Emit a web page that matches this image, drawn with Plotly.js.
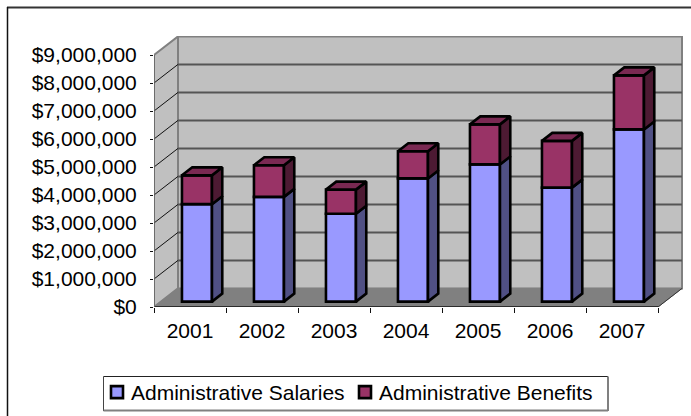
<!DOCTYPE html>
<html>
<head>
<meta charset="utf-8">
<script src="https://cdn.plot.ly/plotly-3.0.1.min.js"></script>
<style>html,body{margin:0;padding:0;background:#fff;overflow:hidden}</style>
</head>
<body>
<div id="chart" style="width:691px;height:416px"></div>
<script>
// Administrative cost per year, stacked, in dollars
const years = ['2001', '2002', '2003', '2004', '2005', '2006', '2007'];
const salaries = [3480000, 3740000, 3140000, 4400000, 4900000, 4070000, 6150000];
const benefits = [1030000, 1130000, 860000, 970000, 1430000, 1670000, 1930000];
const yTicks = [0, 1000000, 2000000, 3000000, 4000000, 5000000, 6000000, 7000000, 8000000, 9000000];
const yTickLabels = ['$0', '$1,000,000', '$2,000,000', '$3,000,000', '$4,000,000', '$5,000,000', '$6,000,000', '$7,000,000', '$8,000,000', '$9,000,000'];

// Oblique projection: depth 0 is the axis plane, depth 1 the back wall
const DEPTH_X = 24 / 72;
const DEPTH_Y = 18.6 / 28 * 1e6;
const project = (x, v, d) => [x + d * DEPTH_X, v + d * DEPTH_Y];
const pathOf = pts => 'M' + pts.map(p => p[0] + ',' + p[1]).join('L') + 'Z';

const BAR_W = 30 / 72, FRONT = 0.29, BACK = 0.72, TOP_AXIS = 9000000, N = years.length;
const EDGE = 2.6;

// Polygons of a bar's right-hand face and top face, joined with gaps for one fill trace
function polyTrace(polys, fill) {
  const x = [], y = [];
  polys.forEach(poly => {
    poly.concat([poly[0]]).forEach(p => { x.push(p[0]); y.push(p[1]); });
    x.push(null); y.push(null);
  });
  return {type: 'scatter', mode: 'lines', x, y, fill: 'toself', fillcolor: fill,
          line: {color: '#000', width: EDGE}, hoverinfo: 'skip', showlegend: false};
}
function sideFace(i, lo, hi) {
  const r = i + 0.5 + BAR_W / 2;
  return [project(r, lo, FRONT), project(r, lo, BACK), project(r, hi, BACK), project(r, hi, FRONT)];
}
function topFace(i, v) {
  const l = i + 0.5 - BAR_W / 2, r = i + 0.5 + BAR_W / 2;
  return [project(l, v, FRONT), project(l, v, BACK), project(r, v, BACK), project(r, v, FRONT)];
}

const totals = salaries.map((s, i) => s + benefits[i]);
const frontX = years.map((_, i) => i + 0.5 + FRONT * DEPTH_X);
const lift = FRONT * DEPTH_Y;

const traces = [
  {type: 'bar', name: 'Administrative Salaries', x: frontX, y: salaries, base: salaries.map(() => lift),
   width: BAR_W, marker: {color: '#9999FF', line: {color: '#000', width: EDGE}}, hoverinfo: 'y'},
  {type: 'bar', name: 'Administrative Benefits', x: frontX, y: benefits, base: salaries.map(s => s + lift),
   width: BAR_W, marker: {color: '#993366', line: {color: '#000', width: EDGE}}, hoverinfo: 'y'},
  polyTrace(salaries.map((s, i) => sideFace(i, 0, s)), '#505084'),
  polyTrace(salaries.map((s, i) => sideFace(i, s, totals[i])), '#4D1A33'),
  polyTrace(totals.map((t, i) => topFace(i, t)), '#7A2952')
];

// Walls, floor and gridlines of the box behind the columns
const shapes = [];
const poly = (pts, fill, lineColor, w) => shapes.push({type: 'path', xref: 'x', yref: 'y', layer: 'below',
  path: pathOf(pts), fillcolor: fill, line: {color: lineColor, width: w}});
const seg = (a, b, color, w) => shapes.push({type: 'line', xref: 'x', yref: 'y', layer: 'below',
  x0: a[0], y0: a[1], x1: b[0], y1: b[1], line: {color, width: w}});
// Page-pixel helpers for the frame and the legend box
const px = v => (v - 154) / 530, py = v => (307 - v) / 271;
const frameLine = (x0, y0, x1, y1, color, w) => shapes.push({type: 'line', xref: 'paper', yref: 'paper', layer: 'below',
  x0: px(x0), y0: py(y0), x1: px(x1), y1: py(y1), line: {color, width: w}});

poly([project(0, 0, 1), project(N, 0, 1), project(N, TOP_AXIS, 1), project(0, TOP_AXIS, 1)], '#C0C0C0', '#808080', 2);
poly([project(0, 0, 0), project(0, 0, 1), project(0, TOP_AXIS, 1), project(0, TOP_AXIS, 0)], '#C0C0C0', '#808080', 2);
poly([project(0, 0, 0), project(N, 0, 0), project(N, 0, 1), project(0, 0, 1)], '#808080', '#808080', 1);
yTicks.slice(1, -1).forEach(v => {
  seg(project(0, v, 1), project(N, v, 1), '#555', 2);
  seg(project(0, v, 0), project(0, v, 1), '#111', 1);
});
seg(project(0, 0, 0), project(N, 0, 0), '#111', 1.5);
seg(project(0, 0, 0), project(0, TOP_AXIS, 0), '#666', 1.5);
seg(project(N, 0, 0), project(N, 0, 1), '#333', 1);

// Chart frame: only its top and left edges fall inside the page
frameLine(7, 7.5, 691, 7.5, '#333', 2);
frameLine(7.5, 7, 7.5, 416, '#111', 1.5);

// Legend box: dark top and left edges, grey right and bottom edges
shapes.push({type: 'rect', xref: 'paper', yref: 'paper', layer: 'below', x0: px(104), y0: py(376.5), x1: px(608), y1: py(410.5), fillcolor: '#fff', line: {width: 0}});
frameLine(103.5, 376.5, 608, 376.5, '#222', 1);
frameLine(103.5, 376.5, 103.5, 411, '#444', 1);
frameLine(608, 376.5, 608, 411, '#808080', 2);
frameLine(103.5, 410.5, 608, 410.5, '#808080', 2);

const layout = {
  width: 691, height: 416,
  margin: {l: 154, r: 7, t: 36, b: 109, pad: 0},
  paper_bgcolor: '#fff', plot_bgcolor: 'rgba(0,0,0,0)',
  font: {family: '"Liberation Sans", Arial, sans-serif', size: 21, color: '#000'},
  barmode: 'overlay',
  showlegend: true,
  legend: {orientation: 'h', xref: 'container', yref: 'container', xanchor: 'left', yanchor: 'top',
           x: 91 / 691, y: 1 - 372 / 416, bgcolor: 'rgba(0,0,0,0)', borderwidth: 0,
           font: {size: 21}, traceorder: 'normal', entrywidthmode: 'pixels', entrywidth: 203},
  xaxis: {range: [0, 530 / 72], tickmode: 'array', tickvals: years.map((_, i) => i + 0.5), ticktext: years,
          showgrid: false, zeroline: false, showline: false, ticks: '', ticklabelstandoff: 9,
          minor: {tickmode: 'array', tickvals: years.map((_, i) => i).concat([N]), ticks: 'outside', ticklen: 5, tickcolor: '#111', tickwidth: 1, showgrid: false}},
  yaxis: {range: [0, 271 / 28 * 1e6], tickmode: 'array', tickvals: yTicks, ticktext: yTickLabels,
          showgrid: false, zeroline: false, showline: false, ticks: 'outside', ticklen: 3, tickcolor: '#111', tickwidth: 1, ticklabelstandoff: 9},
  shapes
};
Plotly.newPlot('chart', traces, layout, {displayModeBar: false, staticPlot: true}).then(gd => {
  // Keep each legend swatch snug against its label and let the last label run its full width
  gd.querySelectorAll('.legend .traces .legendpoints').forEach(g => g.setAttribute('transform', 'translate(6,0)'));
  gd.querySelectorAll('.legend .scrollbox').forEach(g => g.removeAttribute('clip-path'));
});
</script>
</body>
</html>
